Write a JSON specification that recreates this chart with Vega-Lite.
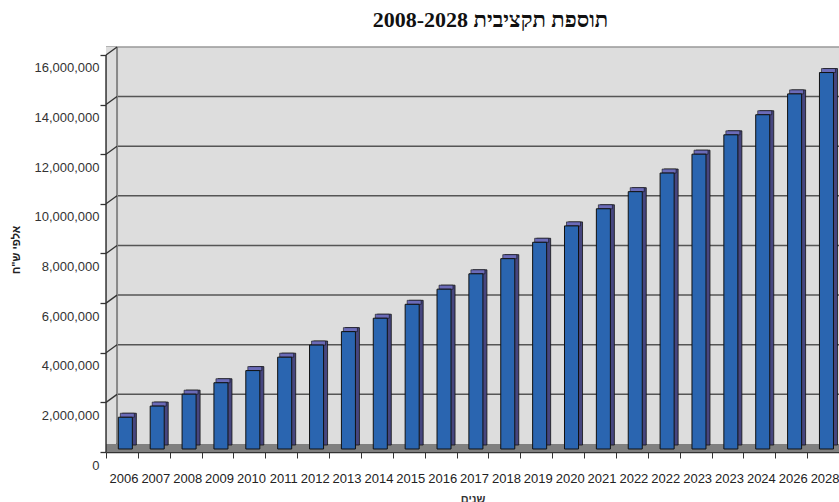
{
  "$schema": "https://vega.github.io/schema/vega-lite/v6.json",
  "width": 733,
  "height": 405,
  "autosize": {"type": "none"},
  "padding": {"left": 106, "top": 47, "right": 0, "bottom": 50},
  "background": "white",
  "config": {"view": {"fill": "#DDDDDD", "stroke": null}, "font": "Liberation Sans"},
  "title": {"text": "תוספת תקציבית  2008-2028", "font": "Liberation Serif", "fontSize": 22, "fontWeight": "bold", "color": "#111", "anchor": "middle", "dx": 18, "offset": 14},
  "datasets": {
    "bars": [
      {"key": "2006", "value": 1280000},
      {"key": "2007", "value": 1730000},
      {"key": "2008", "value": 2210000},
      {"key": "2009", "value": 2670000},
      {"key": "2010", "value": 3160000},
      {"key": "2011", "value": 3700000},
      {"key": "2012", "value": 4190000},
      {"key": "2013", "value": 4730000},
      {"key": "2014", "value": 5270000},
      {"key": "2015", "value": 5830000},
      {"key": "2016", "value": 6440000},
      {"key": "2017", "value": 7060000},
      {"key": "2018", "value": 7670000},
      {"key": "2019", "value": 8330000},
      {"key": "2020", "value": 8990000},
      {"key": "2021", "value": 9680000},
      {"key": "2022", "value": 10370000},
      {"key": "2022b", "value": 11120000},
      {"key": "2023", "value": 11880000},
      {"key": "2023b", "value": 12660000},
      {"key": "2024", "value": 13470000},
      {"key": "2026", "value": 14310000},
      {"key": "2028", "value": 15170000}
    ],
    "grid": [
      {"value": 2000000, "c": "#555555"},
      {"value": 4000000, "c": "#555555"},
      {"value": 6000000, "c": "#555555"},
      {"value": 8000000, "c": "#555555"},
      {"value": 10000000, "c": "#555555"},
      {"value": 12000000, "c": "#555555"},
      {"value": 14000000, "c": "#555555"},
      {"value": 16000000, "c": "#999999"}
    ],
    "ticks": [
      {"key": "2006", "value": 0},
      {"key": "2006", "value": 2000000},
      {"key": "2006", "value": 4000000},
      {"key": "2006", "value": 6000000},
      {"key": "2006", "value": 8000000},
      {"key": "2006", "value": 10000000},
      {"key": "2006", "value": 12000000},
      {"key": "2006", "value": 14000000},
      {"key": "2006", "value": 16000000}
    ],
    "edge": [
      {"key": "2006", "value": 0, "top": 16000000}
    ]
  },
  "layer": [
    {
      "data": {"name": "grid"},
      "mark": {"type": "rule", "yOffset": -8, "strokeWidth": 1.5},
      "encoding": {
        "y": {
          "field": "value", "type": "quantitative",
          "scale": {"domain": [0, 16320000], "nice": false, "zero": true},
          "axis": {
            "values": [0, 2000000, 4000000, 6000000, 8000000, 10000000, 12000000, 14000000, 16000000],
            "format": ",", "labelExpr": "format(datum.value, ',')", "labelOffset": 13, "domain": false, "grid": false, "tickSize": 6, "tickColor": "#333333", "tickWidth": 1.3,
            "labelPadding": 1, "labelFontSize": 13, "labelColor": "#333333",
            "title": "אלפי ש\"ח", "titleFontSize": 11, "titleFontWeight": "bold", "titleColor": "#222222", "titlePadding": 12
          }
        },
        "color": {"field": "c", "type": "nominal", "scale": null}
      }
    },
    {
      "data": {"name": "edge"},
      "mark": {"type": "bar", "width": 11, "xOffset": -10.4, "y2Offset": -8, "fill": "#DDDDDD", "stroke": null},
      "encoding": {
        "x": {"field": "key", "type": "ordinal", "sort": null},
        "y": {"field": "value", "type": "quantitative"},
        "y2": {"field": "top"}
      }
    },
    {
      "data": {"name": "edge"},
      "mark": {"type": "rule", "xOffset": -4.9, "yOffset": -8, "y2Offset": -8, "color": "#888888", "strokeWidth": 2},
      "encoding": {
        "x": {"field": "key", "type": "ordinal", "sort": null},
        "y": {"field": "value", "type": "quantitative"},
        "y2": {"field": "top"}
      }
    },
    {
      "data": {"name": "ticks"},
      "mark": {"type": "rule", "xOffset": -15.9, "x2Offset": -4.9, "y2Offset": -8, "color": "#333333", "strokeWidth": 1.3},
      "encoding": {
        "x": {"field": "key", "type": "ordinal", "sort": null},
        "x2": {"field": "key"},
        "y": {"field": "value", "type": "quantitative"},
        "y2": {"field": "value"}
      }
    },
    {
      "data": {"name": "edge"},
      "mark": {"type": "rule", "yOffset": -4, "color": "#808080", "strokeWidth": 8},
      "encoding": {
        "y": {"field": "value", "type": "quantitative"}
      }
    },
    {
      "data": {"name": "edge"},
      "mark": {"type": "rule", "xOffset": -15.9, "color": "#333333", "strokeWidth": 1.5},
      "encoding": {
        "x": {"field": "key", "type": "ordinal", "sort": null},
        "y": {"field": "value", "type": "quantitative"},
        "y2": {"field": "top"}
      }
    },
    {
      "data": {"name": "bars"},
      "mark": {"type": "bar", "width": {"band": 0.44}, "xOffset": 7.4, "yOffset": -7, "y2Offset": -7, "fill": "#46467F", "stroke": "#111111", "strokeWidth": 0.8},
      "encoding": {
        "x": {"field": "key", "type": "ordinal", "sort": null},
        "y": {"field": "value", "type": "quantitative"}
      }
    },
    {
      "data": {"name": "bars"},
      "mark": {"type": "tick", "orient": "horizontal", "size": 14, "thickness": 4, "xOffset": 5.4, "yOffset": -5, "color": "#6B6BB8", "stroke": "#111111", "strokeWidth": 0.6, "opacity": 1},
      "encoding": {
        "x": {"field": "key", "type": "ordinal", "sort": null},
        "y": {"field": "value", "type": "quantitative"}
      }
    },
    {
      "data": {"name": "bars"},
      "mark": {"type": "bar", "width": {"band": 0.44}, "xOffset": 3.4, "yOffset": -3, "y2Offset": -3, "fill": "#2A65B0", "stroke": "#111111", "strokeWidth": 1},
      "encoding": {
        "x": {
          "field": "key", "type": "ordinal", "sort": null,
          "scale": {"paddingInner": 0, "paddingOuter": 0},
          "axis": {
            "title": "שנים", "titleFontSize": 11, "titleFontWeight": "bold", "titleColor": "#333333", "titlePadding": 8,
            "labelExpr": "replace(datum.label, 'b', '')", "labelAngle": 0, "labelFontSize": 13, "labelColor": "#222222", "labelPadding": 20, "labelOffset": 16,
            "tickBand": "extent", "tickSize": 6, "tickColor": "#333333", "domainColor": "#333333", "domainWidth": 1.5, "grid": false
          }
        },
        "y": {"field": "value", "type": "quantitative"}
      }
    }
  ]
}
